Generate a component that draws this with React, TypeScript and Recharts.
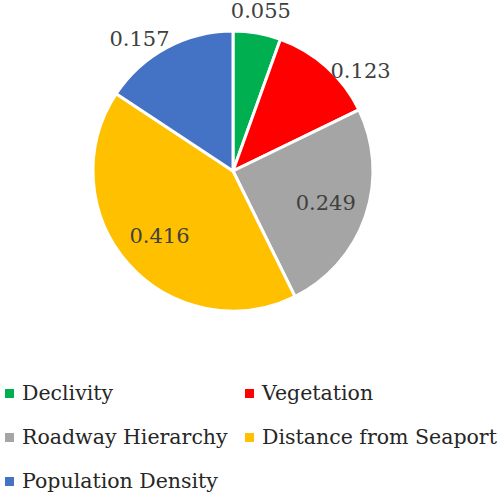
import { PieChart, Pie, Cell } from "recharts";

// factor weights, clockwise from 12 o'clock
const factors = [
  "Declivity",
  "Vegetation",
  "Roadway Hierarchy",
  "Distance from Seaport",
  "Population Density",
];
const weights = [0.055, 0.123, 0.249, 0.416, 0.157];

const COLORS = ["#00B050", "#FF0000", "#A5A5A5", "#FFC000", "#4472C4"];
// small angle nudges (deg) for outside labels, like Excel's best fit
const LABEL_NUDGE = [0, 10, 0, 0, -7];

const FONT = "'DejaVu Serif', serif";

const data = factors.map((name, i) => ({ name, value: weights[i] }));

const renderLabel = (props: any) => {
  const { cx, cy, midAngle, outerRadius, percent, value, index } = props;
  const RADIAN = Math.PI / 180;
  const inside = percent > 0.2;
  const radius = inside ? outerRadius * 0.7 : outerRadius + 22;
  const angle = midAngle - (inside ? 0 : LABEL_NUDGE[index]);
  const x = cx + radius * Math.cos(-angle * RADIAN);
  const y = cy + radius * Math.sin(-angle * RADIAN);
  return (
    <text
      x={x}
      y={y}
      fill="#404040"
      textAnchor="middle"
      dominantBaseline="central"
      fontSize={21}
      fontFamily={FONT}
    >
      {value.toFixed(3)}
    </text>
  );
};

const App = () => {
  return (
    <div style={{ position: "absolute", left: 0, top: 0, width: 500, height: 500, background: "#fff" }}>
      <PieChart width={500} height={370} margin={{ top: 0, right: 0, bottom: 0, left: 0 }}>
        <Pie
          data={data}
          dataKey="value"
          nameKey="name"
          cx={233}
          cy={171}
          outerRadius={140}
          startAngle={90}
          endAngle={-270}
          stroke="#ffffff"
          strokeWidth={3}
          labelLine={false}
          label={renderLabel}
          isAnimationActive={false}
        >
          {data.map((_, index) => (
            <Cell key={`cell-${index}`} fill={COLORS[index % COLORS.length]} />
          ))}
        </Pie>
      </PieChart>
      <div
        style={{
          position: "absolute",
          top: 379,
          left: 0,
          display: "grid",
          gridTemplateColumns: "240px 260px",
          rowGap: 16,
          fontFamily: FONT,
          fontSize: 20.5,
          color: "#262626",
        }}
      >
        {factors.map((name, i) => (
          <div
            key={`leg-${i}`}
            style={{ display: "flex", alignItems: "center", height: 28, whiteSpace: "nowrap" }}
          >
            <span
              style={{
                display: "inline-block",
                width: 9,
                height: 9,
                background: COLORS[i],
                marginLeft: 5,
                marginRight: 8,
              }}
            />
            {name}
          </div>
        ))}
      </div>
    </div>
  );
};

export default App;
